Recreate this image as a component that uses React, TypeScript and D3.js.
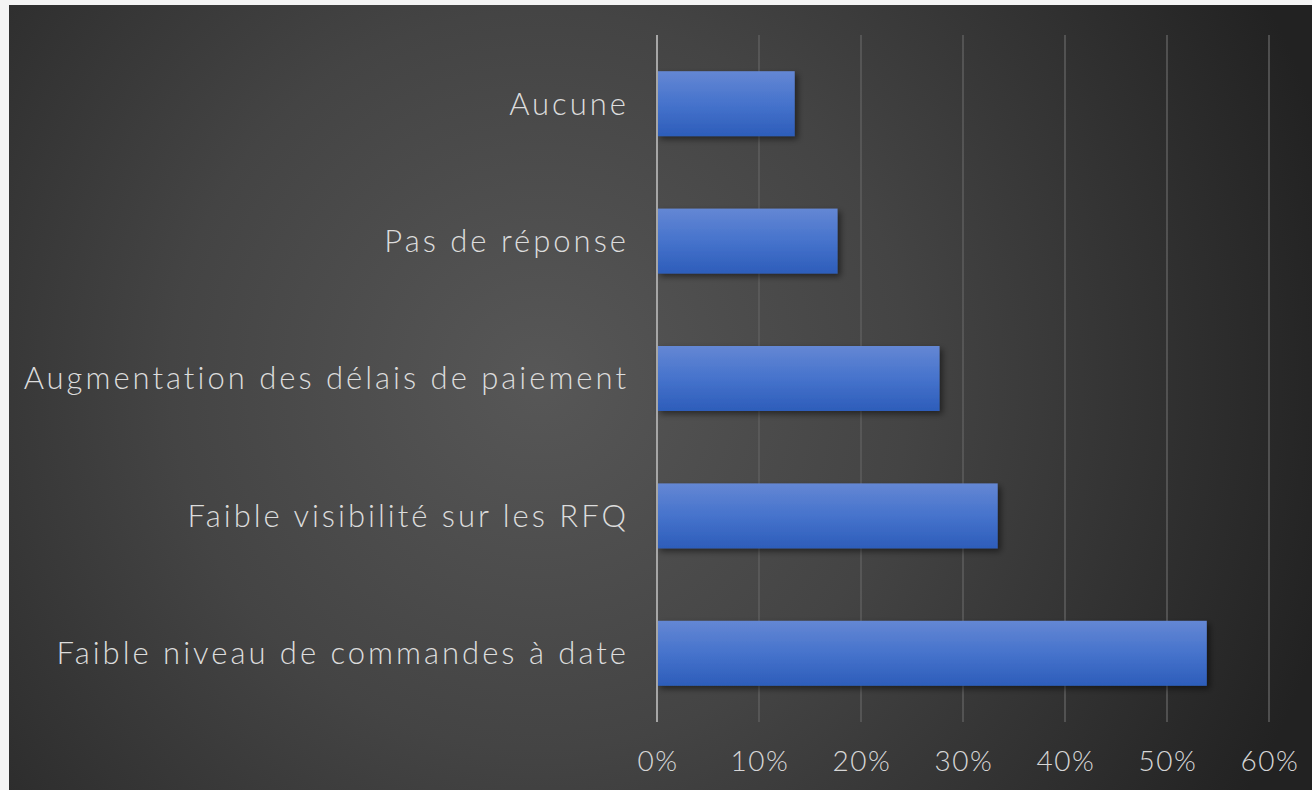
import React from "react";
import * as d3 from "d3";

const categories = [
  "Aucune",
  "Pas de réponse",
  "Augmentation des délais de paiement",
  "Faible visibilité sur les RFQ",
  "Faible niveau de commandes à date",
];
const values = [0.135, 0.177, 0.277, 0.334, 0.539];
const tickValues = [0, 0.1, 0.2, 0.3, 0.4, 0.5, 0.6];

const W = 1312;
const H = 790;
const bgX = 9;
const bgY = 5;
const plot = { left: 657, right: 1269, top: 35, bottom: 722 };
const FONT = "Lato, 'Open Sans', sans-serif";

export default function App() {
  const x = d3.scaleLinear().domain([0, 0.6]).range([plot.left, plot.right]);
  const y = d3
    .scaleBand<string>()
    .domain(categories)
    .range([plot.top, plot.bottom])
    .paddingInner(0.527)
    .paddingOuter(0.2635);
  const fmt = d3.format(".0%");

  return (
    <svg
      width={W}
      height={H}
      style={{ position: "absolute", left: 0, top: 0, display: "block" }}
    >
      <defs>
        <radialGradient id="bg" cx="540" cy="380" r="820" gradientUnits="userSpaceOnUse">
          <stop offset="0" stopColor="#575757" />
          <stop offset="0.45" stopColor="#444444" />
          <stop offset="1" stopColor="#222222" />
        </radialGradient>
        <linearGradient id="bar" x1="0" y1="0" x2="0" y2="1">
          <stop offset="0" stopColor="#6487d4" />
          <stop offset="0.5" stopColor="#4673cc" />
          <stop offset="1" stopColor="#2d5dba" />
        </linearGradient>
        <filter id="shadow" x="-10%" y="-20%" width="130%" height="160%">
          <feGaussianBlur in="SourceAlpha" stdDeviation="3" />
          <feOffset dx="3" dy="3" result="b" />
          <feComponentTransfer>
            <feFuncA type="linear" slope="0.5" />
          </feComponentTransfer>
          <feMerge>
            <feMergeNode />
            <feMergeNode in="SourceGraphic" />
          </feMerge>
        </filter>
      </defs>
      <rect x={0} y={0} width={W} height={H} fill="#f4f4f4" />
      <rect x={bgX} y={bgY} width={W - bgX} height={H - bgY} fill="url(#bg)" />

      {tickValues.slice(1).map((t) => (
        <line
          key={t}
          x1={x(t)}
          x2={x(t)}
          y1={plot.top}
          y2={plot.bottom}
          stroke="#5e5e5e"
          strokeWidth={1.5}
        />
      ))}

      {categories.map((c, i) => (
        <rect
          key={c}
          x={x(0)}
          y={y(c)}
          width={x(values[i]) - x(0)}
          height={y.bandwidth()}
          fill="url(#bar)"
          filter="url(#shadow)"
        />
      ))}

      <line
        x1={x(0)}
        x2={x(0)}
        y1={plot.top}
        y2={plot.bottom}
        stroke="#a6a6a6"
        strokeWidth={2}
      />

      {categories.map((c) => (
        <text
          key={c}
          x={629}
          y={(y(c) as number) + y.bandwidth() / 2}
          dy="0.35em"
          textAnchor="end"
          fill="#dcdcdc"
          fontFamily={FONT}
          fontWeight={300}
          fontSize={31}
          letterSpacing={3.0}
        >
          {c}
        </text>
      ))}

      {tickValues.map((t) => (
        <text
          key={t}
          x={x(t) + 1}
          y={771}
          textAnchor="middle"
          fill="#d6d6d6"
          fontFamily={FONT}
          fontWeight={300}
          fontSize={28}
          letterSpacing={1.5}
        >
          {fmt(t)}
        </text>
      ))}
    </svg>
  );
}
